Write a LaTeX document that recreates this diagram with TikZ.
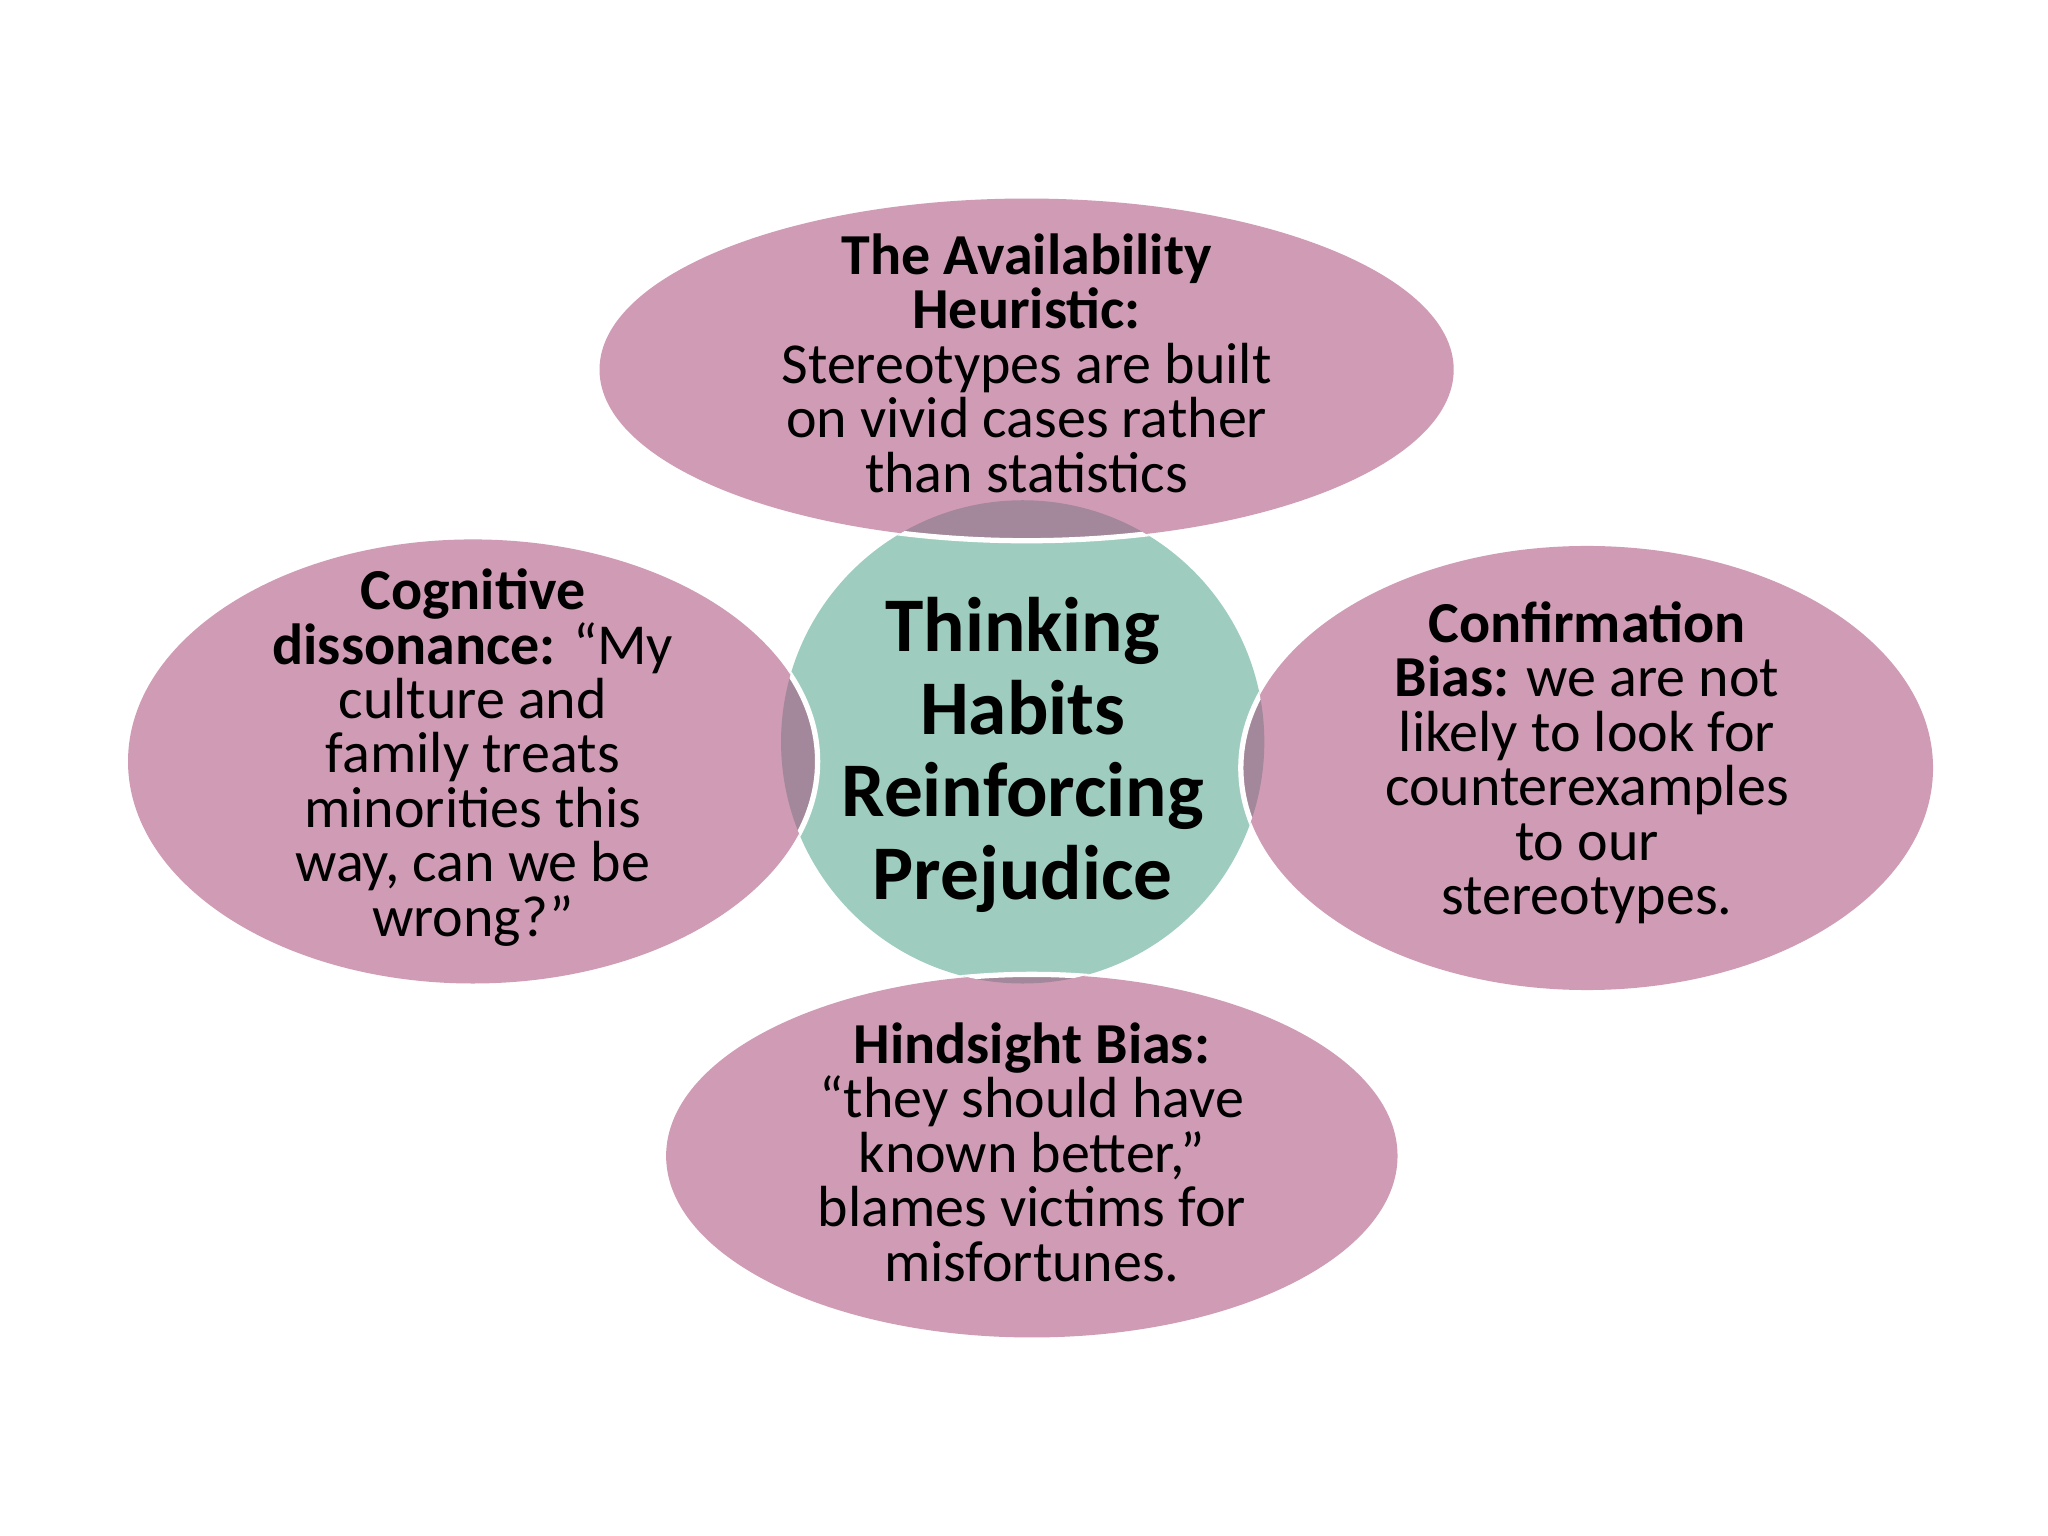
\documentclass[tikz,border=0pt]{standalone}
\usepackage{fontspec}
\setmainfont{Carlito}
\definecolor{pinkc}{HTML}{D09CB5}
\definecolor{tealc}{HTML}{9ECDC0}
\definecolor{lapc}{HTML}{A3879B}
\begin{document}
\begin{tikzpicture}[x=0.01306cm,y=-0.01306cm]
\tikzset{etext/.style={align=center,font=\fontsize{16.5}{15.5}\selectfont,text=black}}
\fill[white] (0,0) rectangle (1568,1176);
\fill[tealc] (783,568) circle (185);
% ellipses
\foreach \c/\rx/\ry in {{(786,283)}/327/131,{(362,583)}/264/170,{(1215,588)}/265/170,{(790,885)}/280/139}{
  \fill[pinkc] \c ellipse [x radius=\rx, y radius=\ry];
}
\begin{scope}
\clip (783,568) circle (185);
\foreach \c/\rx/\ry in {{(786,283)}/327/131,{(362,583)}/264/170,{(1215,588)}/265/170,{(790,885)}/280/139}{
  \fill[lapc] \c ellipse [x radius=\rx, y radius=\ry];
  \draw[white,line width=1.5pt] \c ellipse [x radius=\rx, y radius=\ry];
}
\end{scope}
\node[etext] (top) at (786,278) {\textbf{The Availability}\\\textbf{Heuristic:}\\Stereotypes are built\\on vivid cases rather\\than statistics};
\node[etext] (left) at (362,580) {\textbf{Cognitive}\\\textbf{dissonance:} “My\\culture and\\family treats\\minorities this\\way, can we be\\wrong?”};
\node[etext] (right) at (1215,584) {\textbf{Confirmation}\\\textbf{Bias:} we are not\\likely to look for\\counterexamples\\to our\\stereotypes.};
\node[etext] (bot) at (790,882) {\textbf{Hindsight Bias:}\\“they should have\\known better,”\\blames victims for\\misfortunes.};
\node[align=center,font=\fontsize{22}{23.5}\selectfont\bfseries] (mid) at (783,578) {Thinking\\Habits\\Reinforcing\\Prejudice};
\end{tikzpicture}
\end{document}
